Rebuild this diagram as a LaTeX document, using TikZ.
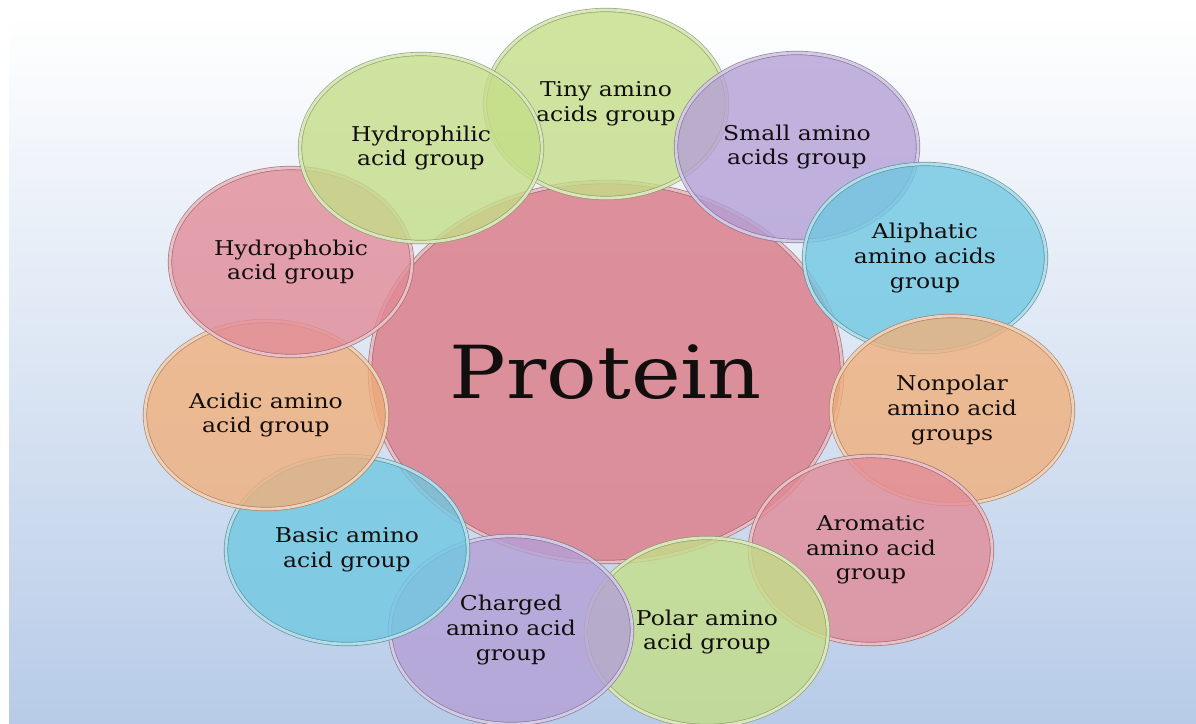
\documentclass[tikz,border=0pt]{standalone}
\usepackage{fontspec}
\setmainfont{DejaVu Serif}[FakeStretch=1.15]
\usetikzlibrary{shapes.geometric}
\definecolor{protgreen}{RGB}{196,222,136}
\definecolor{protpurple}{RGB}{180,160,214}
\definecolor{protblue}{RGB}{112,200,226}
\definecolor{protorange}{RGB}{240,176,124}
\definecolor{protred}{RGB}{226,140,152}
\definecolor{protcore}{RGB}{220,136,148}
\definecolor{protsky}{RGB}{183,203,232}
\definecolor{prottext}{RGB}{18,14,14}
\tikzset{
  bubble/.style={
    ellipse,
    inner sep=0pt,
    align=center,
    text=prottext,
    fill opacity=0.8,
    text opacity=1,
    draw opacity=0.85,
    line width=0.5pt,
    double distance=2pt,
    font=\fontsize{14.5}{17.5}\selectfont
  },
  subbubble/.style={bubble,minimum width=6.05cm,minimum height=4.7cm},
  bubgreen/.style={subbubble,fill=protgreen,draw=protgreen!70!black,double=white!60!protgreen},
  bubpurple/.style={subbubble,fill=protpurple,draw=protpurple!70!black,double=white!60!protpurple},
  bubblue/.style={subbubble,fill=protblue,draw=protblue!70!black,double=white!60!protblue},
  buborange/.style={subbubble,fill=protorange,draw=protorange!70!black,double=white!60!protorange},
  bubred/.style={subbubble,fill=protred,draw=protred!70!black,double=white!60!protred},
  corebubble/.style={bubble,fill=protcore,draw=protcore!70!black,double=white!60!protcore,
                     fill opacity=0.92,
                     minimum width=11.8cm,minimum height=9.5cm,
                     font=\fontsize{52}{56}\selectfont}
}

\begin{document}
\begin{tikzpicture}[x=0.025cm,y=-0.025cm]
  \useasboundingbox (0,0) rectangle (1196,723);
  \fill[white] (0,0) rectangle (1196,723);
  \shade[top color=white,bottom color=protsky] (9,15) rectangle (1196,723);

  \node[corebubble] (protein) at (606,372) {Protein};

  \node[bubgreen] (tiny) at (606,104) {Tiny amino\\acids group};
  \node[bubpurple] (small) at (797,147) {Small amino\\acids group};
  \node[bubblue] (aliph) at (925,258) {Aliphatic\\amino acids\\group};
  \node[buborange] (nonpol) at (952,410) {Nonpolar\\amino acid\\groups};
  \node[bubred] (arom) at (871,550) {Aromatic\\amino acid\\group};
  \node[bubgreen] (polar) at (707,632) {Polar amino\\acid group};
  \node[bubpurple] (charged) at (511,630) {Charged\\amino acid\\group};
  \node[bubblue] (basic) at (347,550) {Basic amino\\acid group};
  \node[buborange] (acidic) at (266,415) {Acidic amino\\acid group};
  \node[bubred] (hphob) at (291,262) {Hydrophobic\\acid group};
  \node[bubgreen] (hphil) at (421,148) {Hydrophilic\\acid group};
\end{tikzpicture}
\end{document}
